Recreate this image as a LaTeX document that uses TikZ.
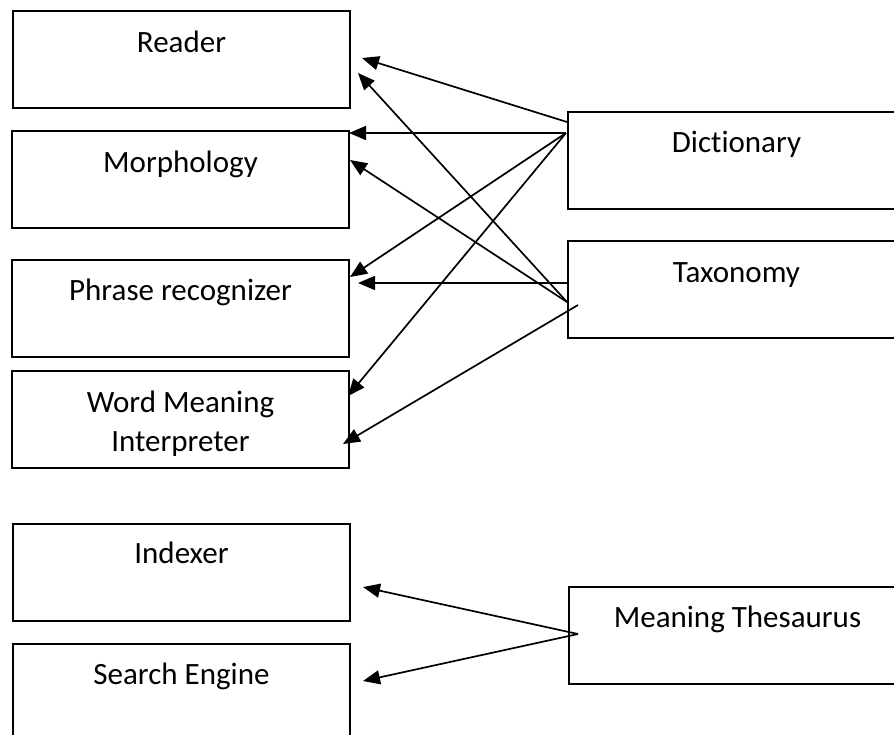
\documentclass[tikz,border=0pt]{standalone}
\usepackage{fontspec}
\setmainfont{Carlito}[Ligatures=NoCommon]
\usetikzlibrary{arrows.meta,calc}
\begin{document}
\begin{tikzpicture}[x=1pt,y=-1pt,
  box/.style={draw=black,line width=2pt,rectangle,minimum width=337pt,minimum height=97pt,anchor=north west,inner sep=0pt},
  boxtext/.style={anchor=base,font=\fontsize{31}{39}\selectfont,align=center,inner sep=0pt},
  conn/.style={draw=black,line width=1.7pt,-{Triangle[length=17pt,width=14pt]}}]
\useasboundingbox (0,0) rectangle (894,734);
\clip (0,0) rectangle (894,734);
\fill[white] (0,0) rectangle (894,734);
% left boxes
\node[box] (reader) at (12,10) {};
\node[box] (morph) at (11,130) {};
\node[box] (phrase) at (11,259) {};
\node[box] (wmi) at (11,370) {};
\node[box] (indexer) at (12,523) {};
\node[box] (search) at (12,643) {};
% right boxes
\node[box] (dict) at (567,111) {};
\node[box] (tax) at (567,240) {};
\node[box] (thes) at (568,586) {};
% texts
\node[boxtext] (treader) at ($(reader.north)+(0,42)$) {Reader};
\node[boxtext] (tmorph) at ($(morph.north)+(0,42)$) {Morphology};
\node[boxtext] (tphrase) at ($(phrase.north)+(0,41)$) {Phrase recognizer};
\node[boxtext] (twmi) at ($(wmi.north)+(0,42)$) {Word Meaning};
\node[boxtext] (twmi2) at ($(wmi.north)+(0,81)$) {Interpreter};
\node[boxtext] (tindexer) at ($(indexer.north)+(0,40)$) {Indexer};
\node[boxtext] (tsearch) at ($(search.north)+(0,41)$) {Search Engine};
\node[boxtext] (tdict) at ($(dict.north)+(0,41)$) {Dictionary};
\node[boxtext] (ttax) at ($(tax.north)+(0,42)$) {Taxonomy};
\node[boxtext] (tthes) at ($(thes.north)+(0,41)$) {Meaning Thesaurus};
% connector end points
\coordinate (d1) at (567,122);
\coordinate (d2) at (566,133);
\coordinate (t1) at (567,302);
\coordinate (t2) at (567,283);
\coordinate (t3) at (578,305);
\coordinate (m1) at (578,634);
\coordinate (rA) at (362,58);
\coordinate (rB) at (358,73);
\coordinate (mA) at (349,133);
\coordinate (mB) at (350,160);
\coordinate (pA) at (350,277);
\coordinate (pB) at (358,283);
\coordinate (wA) at (348,396);
\coordinate (wB) at (343,444);
\coordinate (iA) at (363,587);
\coordinate (sA) at (363,681);
% connectors
\draw[conn] (d1) -- (rA);
\draw[conn] (d2) -- (mA);
\draw[conn] (d2) -- (pA);
\draw[conn] (d2) -- (wA);
\draw[conn] (t1) -- (rB);
\draw[conn] (t1) -- (mB);
\draw[conn] (t2) -- (pB);
\draw[conn] (t3) -- (wB);
\draw[conn] (m1) -- (iA);
\draw[conn] (m1) -- (sA);
\end{tikzpicture}
\end{document}
